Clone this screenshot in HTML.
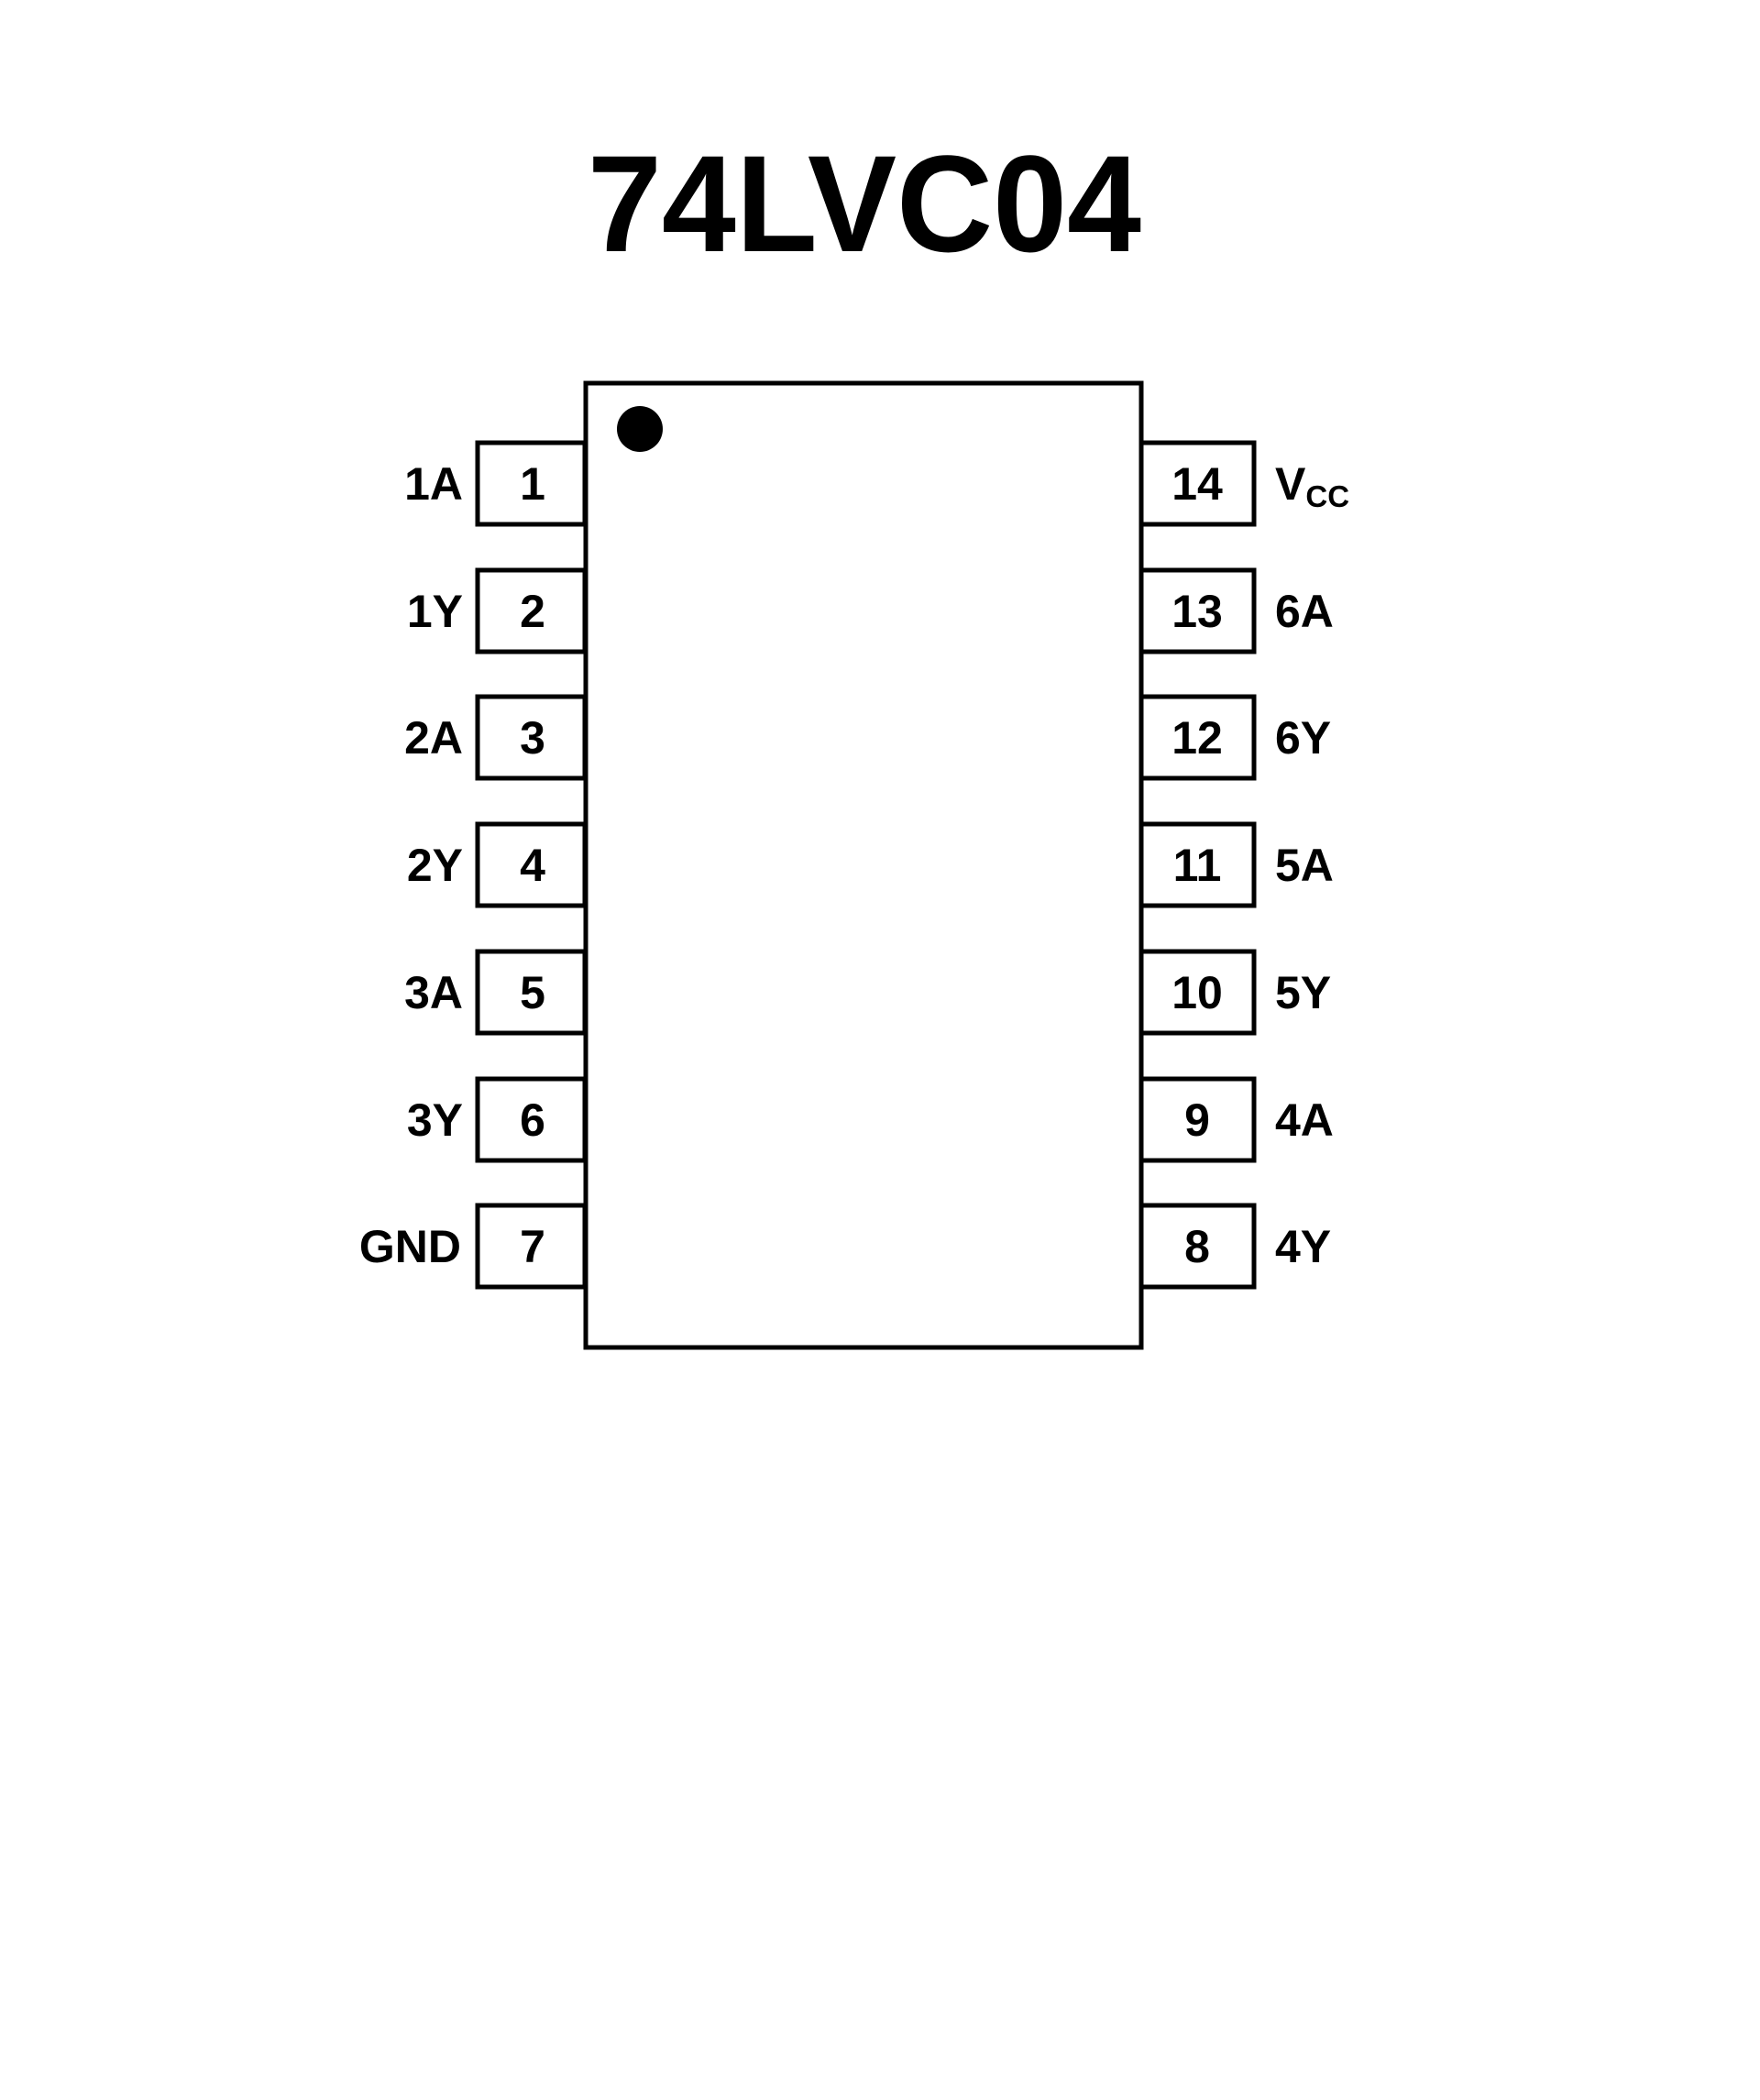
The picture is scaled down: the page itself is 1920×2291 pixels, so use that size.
<!DOCTYPE html>
<html><head><meta charset="utf-8"><style>html,body{margin:0;padding:0;background:#fff}svg{display:block}</style></head>
<body>
<svg width="1920" height="2291" viewBox="0 0 1920 2291" xmlns="http://www.w3.org/2000/svg">
<rect width="1920" height="2291" fill="#fff"/>
<text x="641" y="274" font-family="Liberation Sans, sans-serif" font-weight="bold" font-size="150" textLength="604" lengthAdjust="spacingAndGlyphs">74LVC04</text>
<g fill="#fff" stroke="#000" stroke-width="5">
<rect x="521" y="483" width="117" height="89"/>
<rect x="521" y="622" width="117" height="89"/>
<rect x="521" y="760" width="117" height="89"/>
<rect x="521" y="899" width="117" height="89"/>
<rect x="521" y="1038" width="117" height="89"/>
<rect x="521" y="1177" width="117" height="89"/>
<rect x="521" y="1315" width="117" height="89"/>
<rect x="1245" y="483" width="123" height="89"/>
<rect x="1245" y="622" width="123" height="89"/>
<rect x="1245" y="760" width="123" height="89"/>
<rect x="1245" y="899" width="123" height="89"/>
<rect x="1245" y="1038" width="123" height="89"/>
<rect x="1245" y="1177" width="123" height="89"/>
<rect x="1245" y="1315" width="123" height="89"/>
<rect x="639" y="418" width="606" height="1052"/>
</g>
<circle cx="698" cy="468" r="25" fill="#000"/>
<g font-family="Liberation Sans, sans-serif" font-weight="bold" font-size="50" fill="#000">
<g text-anchor="middle">
<text x="581" y="545">1</text><text x="581" y="684">2</text><text x="581" y="822">3</text><text x="581" y="961">4</text><text x="581" y="1100">5</text><text x="581" y="1239">6</text><text x="581" y="1377">7</text>
<text x="1306" y="545">14</text><text x="1306" y="684">13</text><text x="1306" y="822">12</text><text x="1306" y="961">11</text><text x="1306" y="1100">10</text><text x="1306" y="1239">9</text><text x="1306" y="1377">8</text>
</g>
<g text-anchor="end">
<text x="505" y="545">1A</text><text x="505" y="684">1Y</text><text x="505" y="822">2A</text><text x="505" y="961">2Y</text><text x="505" y="1100">3A</text><text x="505" y="1239">3Y</text><text x="503" y="1377">GND</text>
</g>
<text x="1391" y="545">V<tspan font-size="33" dy="8">CC</tspan></text>
<text x="1391" y="684">6A</text><text x="1391" y="822">6Y</text><text x="1391" y="961">5A</text><text x="1391" y="1100">5Y</text><text x="1391" y="1239">4A</text><text x="1391" y="1377">4Y</text>
</g>
</svg>
</body></html>
